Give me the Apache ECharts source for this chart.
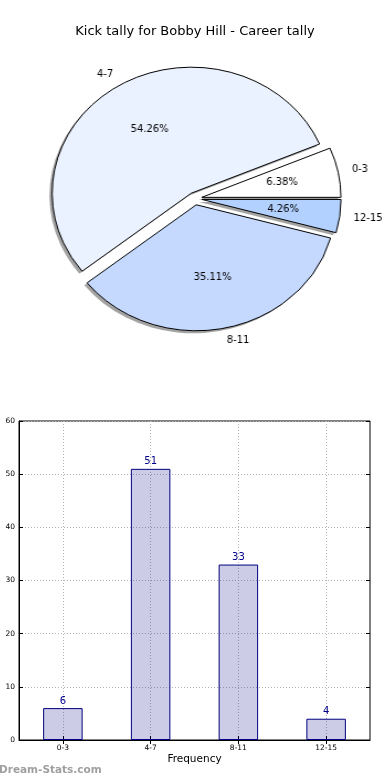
<!DOCTYPE html>
<html><head><meta charset="utf-8">
<script src="https://cdn.jsdelivr.net/npm/echarts@6/dist/echarts.min.js"></script>
<style>
html,body{margin:0;padding:0;background:#fff;}
#wrap{position:relative;width:390px;height:780px;overflow:hidden;background:#fff;}
#main{position:absolute;left:0;top:0;width:390px;height:780px;}
#pie{position:absolute;left:0;top:0;width:390px;height:400px;transform:scaleX(1.105);transform-origin:194.9px 0;}
</style></head><body>
<div id="wrap"><div id="main"></div><div id="pie"></div></div>
<script>
const chartTitle = 'Kick tally for Bobby Hill - Career tally';
const categories = ['0-3', '4-7', '8-11', '12-15'];
const counts = [6, 51, 33, 4];
const sliceColors = ['#ffffff', '#eaf1ff', '#c5d9ff', '#b3d1ff'];
const yMin = 0, yMax = 60, yStep = 10;
const xAxisName = 'Frequency';
const watermark = 'Dream-Stats.com';

const FONT = 'DejaVu Sans';
const PIE_FONT = '"DejaVu Sans Condensed", "DejaVu Sans"';
const total = counts.reduce((a, b) => a + b, 0);
const R = 126, CX = 194.9, CY = 198.6, EXPLODE = 6.3, SH = 2.5;
const common = {type: 'pie', radius: [0, R], startAngle: 0, clockwise: false,
  selectedMode: 'multiple', selectedOffset: EXPLODE, avoidLabelOverlap: false, emphasis: {disabled: true}};

const pie = echarts.init(document.getElementById('pie'), null, {renderer: 'canvas'});
pie.setOption({
  animation: false,
  series: [
    // shadow layer
    Object.assign({}, common, {
      center: [CX - SH, CY + SH], silent: true,
      itemStyle: {color: 'rgba(0,0,0,0.36)', borderWidth: 0},
      select: {itemStyle: {color: 'rgba(0,0,0,0.36)', borderWidth: 0}},
      label: {show: false}, labelLine: {show: false},
      data: categories.map((c, i) => ({name: c, value: counts[i], selected: true}))
    }),
    Object.assign({}, common, {
      center: [CX, CY],
      itemStyle: {borderColor: '#000', borderWidth: 1},
      select: {itemStyle: {borderColor: '#000', borderWidth: 1}},
      label: {show: true, position: 'outside', formatter: '{b}', fontSize: 10, color: '#000', fontFamily: PIE_FONT, distanceToLabelLine: 0},
      labelLine: {show: false, length: R * 0.1, length2: 0},
      data: categories.map((c, i) => ({name: c, value: counts[i], selected: true, itemStyle: {color: sliceColors[i]}}))
    }),
    Object.assign({}, common, {
      center: [CX, CY], radius: [R * 0.13, R], silent: true,
      itemStyle: {color: 'rgba(0,0,0,0)', borderWidth: 0},
      label: {show: true, position: 'inside', color: '#000', fontSize: 10, fontFamily: PIE_FONT, textBorderWidth: 0,
        formatter: p => (p.value / total * 100).toFixed(2) + '%'},
      labelLine: {show: false},
      data: categories.map((c, i) => ({name: c, value: counts[i], selected: true}))
    })
  ]
});

const main = echarts.init(document.getElementById('main'), null, {renderer: 'canvas'});
const tickStyle = {show: true, inside: true, length: 4, lineStyle: {color: '#000', width: 1}};
const gridLine = {color: '#b4b4b4', type: [1, 2], width: 1};
main.setOption({
  animation: false,
  backgroundColor: '#fff',
  title: {text: chartTitle, left: 'center', top: 20, textStyle: {fontSize: 13, fontWeight: 'normal', color: '#000', fontFamily: FONT}},
  grid: {left: 19, top: 421, width: 351, height: 319, show: true, borderColor: '#000', borderWidth: 1, backgroundColor: 'rgba(0,0,0,0)', outerBoundsMode: 'none', containLabel: false},
  xAxis: [
    {type: 'category', data: categories, position: 'bottom', boundaryGap: true,
      axisLine: {show: true, lineStyle: {color: '#000', width: 1}},
      axisTick: Object.assign({alignWithLabel: true}, tickStyle),
      axisLabel: {fontSize: 7.5, color: '#000', margin: 4, fontFamily: FONT},
      splitLine: {show: false},
      name: xAxisName, nameLocation: 'middle', nameGap: 14, nameTextStyle: {fontSize: 10.5, color: '#000', fontFamily: FONT}},
    {type: 'category', data: categories, position: 'top', boundaryGap: true,
      axisLine: {show: false}, axisTick: Object.assign({alignWithLabel: true}, tickStyle),
      axisLabel: {show: false}, splitLine: {show: false}},
    // helper axis in half-category units: grid lines fall on category centres (odd values)
    {type: 'value', position: 'bottom', min: 0, max: categories.length * 2, interval: 1,
      axisLine: {show: false}, axisTick: {show: false}, axisLabel: {show: false},
      splitLine: {show: true, lineStyle: Object.assign({}, gridLine, {color: ['rgba(0,0,0,0)', '#b4b4b4']})}}
  ],
  yAxis: [
    {type: 'value', min: yMin, max: yMax, interval: yStep,
      axisLine: {show: true, lineStyle: {color: '#000', width: 1}},
      axisTick: tickStyle,
      axisLabel: {fontSize: 7.5, color: '#000', margin: 4, fontFamily: FONT},
      splitLine: {show: true, lineStyle: gridLine}},
    {type: 'value', position: 'right', min: yMin, max: yMax, interval: yStep,
      axisLine: {show: false}, axisTick: tickStyle, axisLabel: {show: false}, splitLine: {show: false}}
  ],
  series: [{
    type: 'bar', data: counts, barWidth: '45%', xAxisIndex: 0, yAxisIndex: 0,
    itemStyle: {color: 'rgba(0,0,128,0.2)', borderColor: '#000080', borderWidth: 1},
    label: {show: true, position: 'top', distance: 2, fontSize: 10, color: '#00008b', fontFamily: FONT},
    emphasis: {disabled: true}
  }],
  graphic: [{type: 'text', left: -1, top: 765, style: {text: watermark, font: 'bold 10.5px "DejaVu Sans"', fill: '#a0a0a0'}}]
});
</script>
</body></html>
